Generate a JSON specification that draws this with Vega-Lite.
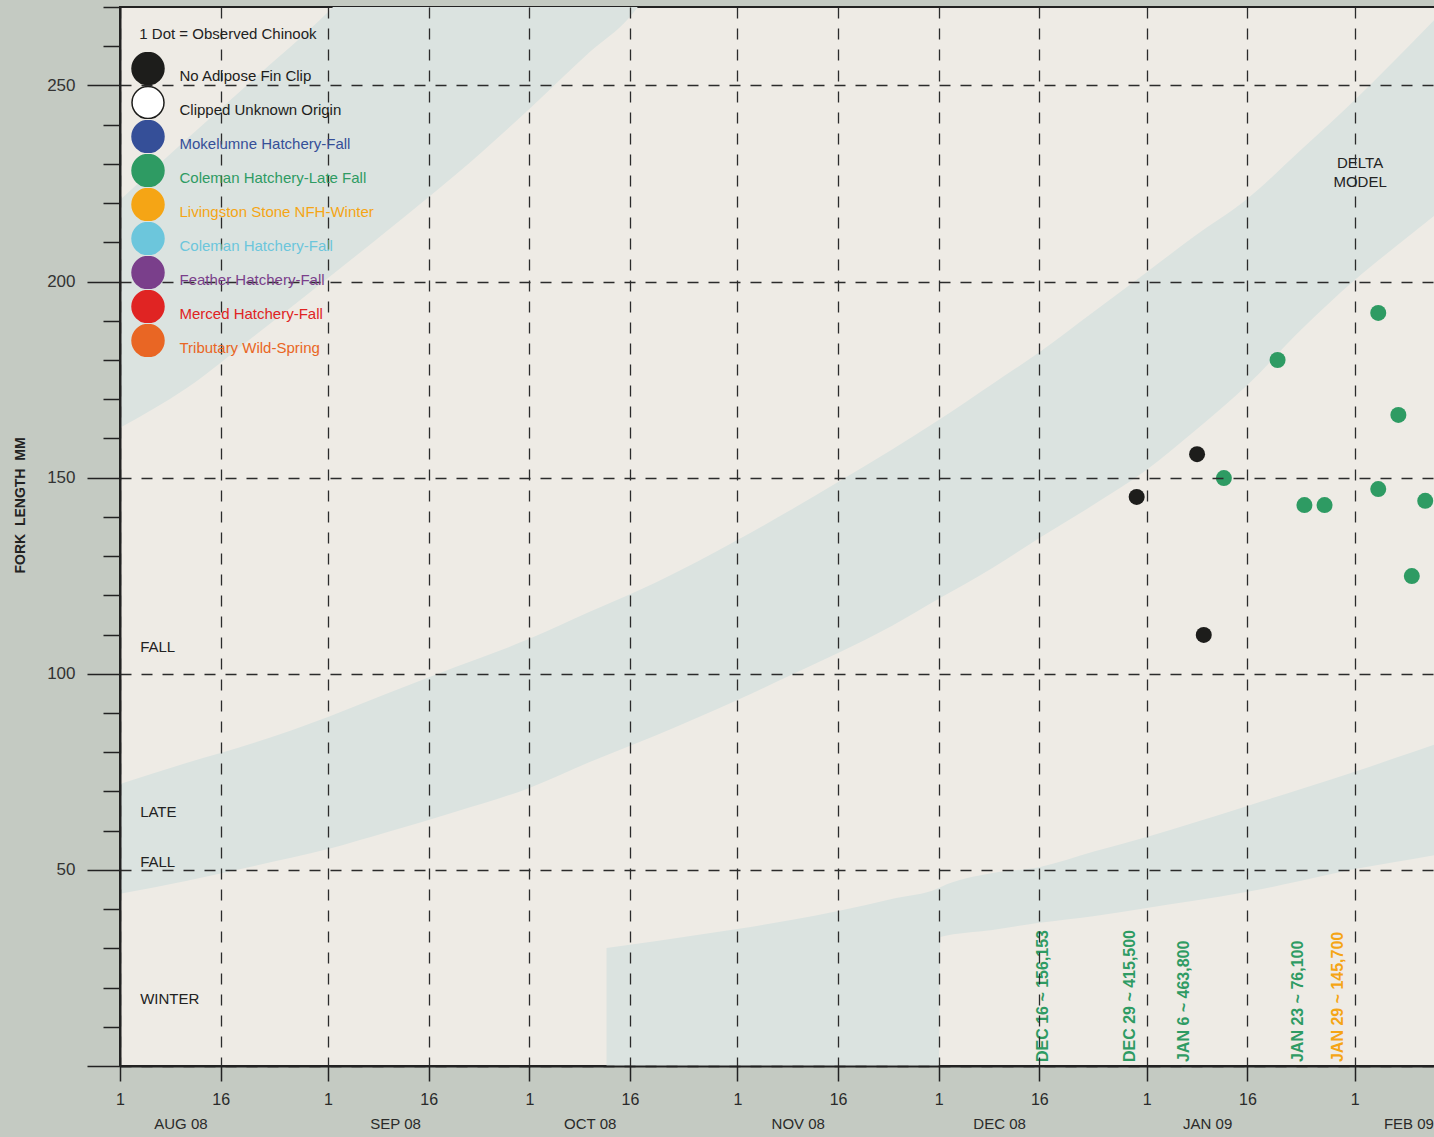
{
  "$schema": "https://vega.github.io/schema/vega-lite/v6.json",
  "width": 1322,
  "height": 1059,
  "autosize": {"type": "none"},
  "padding": {"left": 120, "top": 7, "right": 0, "bottom": 71},
  "background": "#c4cac2",
  "config": {
    "font": "Liberation Sans",
    "view": {"stroke": "#222222", "strokeWidth": 2, "fill": "#eeebe5"}
  },
  "datasets": {
    "bands": [
      {"band": "A", "date": "2008-08-01", "lo": 162.7, "hi": 220.8},
      {"band": "A", "date": "2008-08-11", "lo": 172.9, "hi": 236.4},
      {"band": "A", "date": "2008-08-21", "lo": 186.1, "hi": 251.7},
      {"band": "A", "date": "2008-09-01", "lo": 200.9, "hi": 268.7},
      {"band": "A", "date": "2008-09-10", "lo": 213.2, "hi": 285},
      {"band": "A", "date": "2008-09-20", "lo": 227.2, "hi": 295},
      {"band": "A", "date": "2008-10-01", "lo": 244.0, "hi": 300},
      {"band": "A", "date": "2008-10-10", "lo": 258.5, "hi": 300},
      {"band": "A", "date": "2008-10-16", "lo": 267.5, "hi": 300},
      {"band": "A", "date": "2008-10-20", "lo": 277.0, "hi": 300},
      {"band": "B", "date": "2008-08-01", "lo": 43.9, "hi": 71.9},
      {"band": "B", "date": "2008-08-11", "lo": 47.2, "hi": 77.3},
      {"band": "B", "date": "2008-08-21", "lo": 51.0, "hi": 82.4},
      {"band": "B", "date": "2008-09-01", "lo": 55.3, "hi": 89.0},
      {"band": "B", "date": "2008-09-10", "lo": 59.7, "hi": 95.1},
      {"band": "B", "date": "2008-09-20", "lo": 64.8, "hi": 101.7},
      {"band": "B", "date": "2008-10-01", "lo": 70.9, "hi": 108.9},
      {"band": "B", "date": "2008-10-10", "lo": 77.5, "hi": 115.8},
      {"band": "B", "date": "2008-10-20", "lo": 84.4, "hi": 123.4},
      {"band": "B", "date": "2008-11-01", "lo": 93.3, "hi": 134.1},
      {"band": "B", "date": "2008-11-09", "lo": 99.7, "hi": 141.8},
      {"band": "B", "date": "2008-11-16", "lo": 105.3, "hi": 148.9},
      {"band": "B", "date": "2008-11-24", "lo": 112.2, "hi": 157.1},
      {"band": "B", "date": "2008-12-01", "lo": 119.1, "hi": 164.7},
      {"band": "B", "date": "2008-12-09", "lo": 127.0, "hi": 173.9},
      {"band": "B", "date": "2008-12-16", "lo": 134.6, "hi": 182.0},
      {"band": "B", "date": "2008-12-24", "lo": 143.0, "hi": 192.2},
      {"band": "B", "date": "2009-01-01", "lo": 152.0, "hi": 202.4},
      {"band": "B", "date": "2009-01-08", "lo": 161.7, "hi": 211.4},
      {"band": "B", "date": "2009-01-16", "lo": 173.6, "hi": 221.1},
      {"band": "B", "date": "2009-01-24", "lo": 187.7, "hi": 233.6},
      {"band": "B", "date": "2009-02-01", "lo": 200.4, "hi": 246.3},
      {"band": "B", "date": "2009-02-07", "lo": 208.8, "hi": 256.5},
      {"band": "B", "date": "2009-02-14", "lo": 218.3, "hi": 268.7},
      {"band": "C", "date": "2008-10-12T12:00:00Z", "lo": 0, "hi": 30.1},
      {"band": "C", "date": "2008-10-20", "lo": 0, "hi": 31.9},
      {"band": "C", "date": "2008-11-01", "lo": 0, "hi": 34.9},
      {"band": "C", "date": "2008-11-09", "lo": 0, "hi": 37.2},
      {"band": "C", "date": "2008-11-16", "lo": 0, "hi": 39.5},
      {"band": "C", "date": "2008-11-24", "lo": 0, "hi": 42.6},
      {"band": "C", "date": "2008-12-01", "lo": 0, "hi": 45.4},
      {"band": "C", "date": "2008-12-01T06:00:00Z", "lo": 32.9, "hi": 45.6},
      {"band": "C", "date": "2008-12-09", "lo": 34.7, "hi": 49.2},
      {"band": "C", "date": "2008-12-16", "lo": 36.5, "hi": 50.7},
      {"band": "C", "date": "2008-12-24", "lo": 38.2, "hi": 54.6},
      {"band": "C", "date": "2009-01-01", "lo": 40.3, "hi": 58.4},
      {"band": "C", "date": "2009-01-08", "lo": 42.1, "hi": 62.0},
      {"band": "C", "date": "2009-01-16", "lo": 44.4, "hi": 66.3},
      {"band": "C", "date": "2009-01-24", "lo": 47.2, "hi": 70.6},
      {"band": "C", "date": "2009-02-01", "lo": 50.2, "hi": 75.0},
      {"band": "C", "date": "2009-02-07", "lo": 52.0, "hi": 78.5},
      {"band": "C", "date": "2009-02-14", "lo": 54.1, "hi": 82.6}
    ],
    "fish": [
      {"date": "2008-12-30T12:00:00Z", "fl": 145.1, "origin": "No Adipose Fin Clip"},
      {"date": "2009-01-08T12:00:00Z", "fl": 156.0, "origin": "No Adipose Fin Clip"},
      {"date": "2009-01-09T12:00:00Z", "fl": 109.9, "origin": "No Adipose Fin Clip"},
      {"date": "2009-01-12T12:00:00Z", "fl": 149.9, "origin": "Coleman Hatchery-Late Fall"},
      {"date": "2009-01-20T12:00:00Z", "fl": 180.0, "origin": "Coleman Hatchery-Late Fall"},
      {"date": "2009-01-24T12:00:00Z", "fl": 143.0, "origin": "Coleman Hatchery-Late Fall"},
      {"date": "2009-01-27T12:00:00Z", "fl": 143.0, "origin": "Coleman Hatchery-Late Fall"},
      {"date": "2009-02-04T12:00:00Z", "fl": 192.0, "origin": "Coleman Hatchery-Late Fall"},
      {"date": "2009-02-04T12:00:00Z", "fl": 147.1, "origin": "Coleman Hatchery-Late Fall"},
      {"date": "2009-02-07T12:00:00Z", "fl": 166.0, "origin": "Coleman Hatchery-Late Fall"},
      {"date": "2009-02-09T12:00:00Z", "fl": 124.9, "origin": "Coleman Hatchery-Late Fall"},
      {"date": "2009-02-11T12:00:00Z", "fl": 144.1, "origin": "Coleman Hatchery-Late Fall"}
    ],
    "notes": [
      {"label": "FALL", "date": "2008-08-04", "fl": 106.8},
      {"label": "LATE", "date": "2008-08-04", "fl": 64.8},
      {"label": "FALL", "date": "2008-08-04", "fl": 52.0},
      {"label": "WINTER", "date": "2008-08-04", "fl": 17.1}
    ],
    "model": [
      {"label": "DELTA|MODEL", "date": "2009-02-01T19:00:00Z", "fl": 230.2}
    ],
    "releases": [
      {"label": "DEC 16 ~ 156,153", "date": "2008-12-16T12:00:00Z", "origin": "Coleman Hatchery-Late Fall"},
      {"label": "DEC 29 ~ 415,500", "date": "2008-12-29T12:00:00Z", "origin": "Coleman Hatchery-Late Fall"},
      {"label": "JAN 6 ~ 463,800", "date": "2009-01-06T12:00:00Z", "origin": "Coleman Hatchery-Late Fall"},
      {"label": "JAN 23 ~ 76,100", "date": "2009-01-23T12:00:00Z", "origin": "Coleman Hatchery-Late Fall"},
      {"label": "JAN 29 ~ 145,700", "date": "2009-01-29T12:00:00Z", "origin": "Livingston Stone NFH-Winter"}
    ]
  },
  "layer": [
    {
      "data": {"name": "bands"},
      "mark": {"type": "area", "fill": "#dbe3e0", "interpolate": "monotone", "clip": true, "opacity": 1},
      "encoding": {
        "x": {
          "field": "date", "type": "temporal",
          "scale": {"type": "utc", "nice": false, "domain": [{"year": 2008, "month": 8, "date": 1, "utc": true}, {"year": 2009, "month": 2, "date": 14, "utc": true}]},
          "axis": {
            "orient": "bottom",
            "values": [
              {"year": 2008, "month": 8, "date": 1, "utc": true},
              {"year": 2008, "month": 8, "date": 16, "utc": true},
              {"year": 2008, "month": 9, "date": 1, "utc": true},
              {"year": 2008, "month": 9, "date": 16, "utc": true},
              {"year": 2008, "month": 10, "date": 1, "utc": true},
              {"year": 2008, "month": 10, "date": 16, "utc": true},
              {"year": 2008, "month": 11, "date": 1, "utc": true},
              {"year": 2008, "month": 11, "date": 16, "utc": true},
              {"year": 2008, "month": 12, "date": 1, "utc": true},
              {"year": 2008, "month": 12, "date": 16, "utc": true},
              {"year": 2009, "month": 1, "date": 1, "utc": true},
              {"year": 2009, "month": 1, "date": 16, "utc": true},
              {"year": 2009, "month": 2, "date": 1, "utc": true}
            ],
            "labelExpr": "utcFormat(datum.value, '%-d')",
            "title": null,
            "tickSize": 15, "tickWidth": 1.5, "tickColor": "#222222",
            "domain": true, "domainColor": "#222222", "domainWidth": 2,
            "grid": true, "gridDash": [11, 10], "gridColor": "#2b2b2b", "gridWidth": 1.3, "gridOpacity": 1,
            "labelFontSize": 16, "labelColor": "#2a2a2a", "labelPadding": 10,
            "labelFlush": false, "labelOverlap": false,
            "zindex": 1
          }
        },
        "y": {
          "field": "lo", "type": "quantitative",
          "scale": {"domain": [0, 270], "nice": false, "zero": true},
          "axis": {
            "orient": "left",
            "values": [0, 50, 100, 150, 200, 250],
            "labelExpr": "datum.value == 0 ? '' : datum.label",
            "tickSize": 33, "tickWidth": 1.5, "tickColor": "#222222",
            "domain": true, "domainColor": "#222222", "domainWidth": 2,
            "grid": true, "gridDash": [11, 10], "gridColor": "#2b2b2b", "gridWidth": 1.3, "gridOpacity": 1,
            "labelFontSize": 17, "labelPadding": 12, "labelColor": "#333333",
            "title": "FORK\u00a0 LENGTH\u00a0 MM",
            "titleFontSize": 14, "titleFontWeight": "bold", "titleColor": "#222222",
            "titleAngle": 270, "titleX": -100, "titleY": 498, "titleAlign": "center", "titleBaseline": "middle",
            "zindex": 1
          }
        },
        "y2": {"field": "hi"},
        "detail": {"field": "band", "type": "nominal"}
      }
    },
    {
      "data": {"name": "fish"},
      "mark": {"type": "point", "filled": true, "shape": "circle", "size": 256, "opacity": 1, "strokeWidth": 0},
      "encoding": {
        "x": {
          "field": "date", "type": "temporal",
          "scale": {"type": "utc", "nice": false, "domain": [{"year": 2008, "month": 8, "date": 1, "utc": true}, {"year": 2009, "month": 2, "date": 14, "utc": true}]},
          "axis": {
            "orient": "bottom",
            "values": [
              {"year": 2008, "month": 8, "date": 10, "utc": true},
              {"year": 2008, "month": 9, "date": 11, "utc": true},
              {"year": 2008, "month": 10, "date": 10, "utc": true},
              {"year": 2008, "month": 11, "date": 10, "utc": true},
              {"year": 2008, "month": 12, "date": 10, "utc": true},
              {"year": 2009, "month": 1, "date": 10, "utc": true},
              {"year": 2009, "month": 2, "date": 9, "utc": true}
            ],
            "labelExpr": "upper(utcFormat(datum.value, '%b %y'))",
            "title": null, "ticks": false, "tickSize": 0, "domain": false, "grid": false,
            "labelPadding": 50, "labelFontSize": 15, "labelColor": "#2a2a2a",
            "labelFlush": false, "labelOverlap": false, "zindex": 1
          }
        },
        "y": {
          "field": "fl", "type": "quantitative",
          "scale": {"domain": [0, 270], "nice": false, "zero": true},
          "axis": {
            "orient": "left",
            "values": [10, 20, 30, 40, 60, 70, 80, 90, 110, 120, 130, 140, 160, 170, 180, 190, 210, 220, 230, 240, 260, 270],
            "tickSize": 17, "tickWidth": 1.5, "tickColor": "#222222",
            "labels": false, "domain": false, "grid": false, "title": null, "zindex": 1
          }
        },
        "color": {
          "field": "origin", "type": "nominal",
          "scale": {
            "domain": ["No Adipose Fin Clip", "Clipped Unknown Origin", "Mokelumne Hatchery-Fall", "Coleman Hatchery-Late Fall", "Livingston Stone NFH-Winter", "Coleman Hatchery-Fall", "Feather Hatchery-Fall", "Merced Hatchery-Fall", "Tributary Wild-Spring"],
            "range": ["#1d1d1b", "#ffffff", "#354f98", "#2e9b63", "#f5a515", "#6cc6dc", "#7a3f8b", "#e02423", "#e96624"]
          },
          "legend": {
            "orient": "none", "legendX": 11, "legendY": 20,
            "title": "\u200b\u00a0\u00a01 Dot = Observed Chinook",
            "titleFontSize": 15, "titleFontWeight": "normal", "titleColor": "#222222", "titlePadding": 10, "titleLimit": 500,
            "symbolSize": 1024, "symbolType": "circle", "symbolOpacity": 1,
            "symbolStrokeColor": {"expr": "datum.value === 'Clipped Unknown Origin' ? '#1d1d1b' : scale('color', datum.value)"},
            "symbolStrokeWidth": 1.5,
            "labelFontSize": 15, "labelOffset": 14.5, "labelBaseline": "top", "labelLimit": 400,
            "labelColor": {"expr": "datum.value === 'Clipped Unknown Origin' ? '#1d1d1b' : scale('color', datum.value)"},
            "clipHeight": 33.1,
            "rowPadding": 0, "padding": 0, "zindex": 2
          }
        }
      }
    },
    {
      "data": {"name": "notes"},
      "mark": {"type": "text", "align": "left", "baseline": "middle", "fontSize": 15, "color": "#222222"},
      "encoding": {
        "x": {"field": "date", "type": "temporal", "axis": null},
        "y": {"field": "fl", "type": "quantitative", "axis": null},
        "text": {"field": "label"}
      }
    },
    {
      "data": {"name": "model"},
      "mark": {"type": "text", "align": "center", "baseline": "middle", "fontSize": 15, "color": "#222222", "lineBreak": "|", "lineHeight": 19},
      "encoding": {
        "x": {"field": "date", "type": "temporal", "axis": null},
        "y": {"field": "fl", "type": "quantitative", "axis": null},
        "text": {"field": "label"}
      }
    },
    {
      "data": {"name": "releases"},
      "mark": {"type": "text", "align": "left", "baseline": "middle", "angle": 270, "fontSize": 16, "fontWeight": "bold"},
      "encoding": {
        "x": {"field": "date", "type": "temporal", "axis": null},
        "y": {"datum": 1, "type": "quantitative", "axis": null},
        "text": {"field": "label"},
        "color": {"field": "origin", "type": "nominal", "legend": null}
      }
    }
  ],
  "resolve": {"axis": {"x": "independent", "y": "independent"}}
}
